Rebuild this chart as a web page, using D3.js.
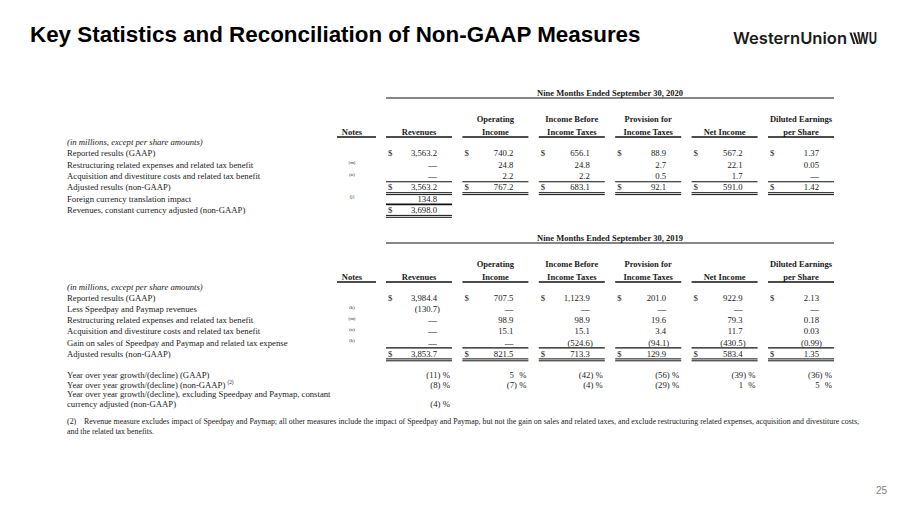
<!DOCTYPE html>
<html><head><meta charset="utf-8">
<script src="https://cdn.jsdelivr.net/npm/d3@7"></script>
<style>body{margin:0;background:#fff} svg{display:block}</style>
</head><body>
<svg id="c" width="900" height="506"></svg>
<script>
// ---------------- DATA ----------------
const columns = ["Revenues","Operating Income","Income Before Income Taxes","Provision for Income Taxes","Net Income","Diluted Earnings per Share"];
const headerTop = ["", "Operating", "Income Before", "Provision for", "", "Diluted Earnings"];
const headerBottom = ["Revenues", "Income", "Income Taxes", "Income Taxes", "Net Income", "per Share"];

const title2020 = "Nine Months Ended September 30, 2020";
const labels2020 = ["Reported results (GAAP)", "Restructuring related expenses and related tax benefit",
  "Acquisition and divestiture costs and related tax benefit", "Adjusted results (non-GAAP)",
  "Foreign currency translation impact", "Revenues, constant currency adjusted (non-GAAP)"];
const notes2020 = ["", "(m)", "(n)", "", "(j)", ""];
const reported2020 = [3563.2, 740.2, 656.1, 88.9, 567.2, 1.37];
const restructuring2020 = [0, 24.8, 24.8, 2.7, 22.1, 0.05];
const acquisition2020 = [0, 2.2, 2.2, 0.5, 1.7, 0];
const adjusted2020 = [3563.2, 767.2, 683.1, 92.1, 591.0, 1.42];
const fxImpact2020 = [134.8];
const constantCurrency2020 = [3698.0];

const title2019 = "Nine Months Ended September 30, 2019";
const labels2019 = ["Reported results (GAAP)", "Less Speedpay and Paymap revenues",
  "Restructuring related expenses and related tax benefit", "Acquisition and divestiture costs and related tax benefit",
  "Gain on sales of Speedpay and Paymap and related tax expense", "Adjusted results (non-GAAP)"];
const notes2019 = ["", "(k)", "(m)", "(n)", "(k)", ""];
const reported2019 = [3984.4, 707.5, 1123.9, 201.0, 922.9, 2.13];
const speedpay2019 = [-130.7, 0, 0, 0, 0, 0];
const restructuring2019 = [0, 98.9, 98.9, 19.6, 79.3, 0.18];
const acquisition2019 = [0, 15.1, 15.1, 3.4, 11.7, 0.03];
const gain2019 = [0, 0, -524.6, -94.1, -430.5, -0.99];
const adjusted2019 = [3853.7, 821.5, 713.3, 129.9, 583.4, 1.35];

const growthLabels = ["Year over year growth/(decline) (GAAP)", "Year over year growth/(decline) (non-GAAP)",
  "Year over year growth/(decline), excluding Speedpay and Paymap, constant", "currency adjusted (non-GAAP)"];
const growthGAAP = [-11, 5, -42, -56, -39, -36];
const growthNonGAAP = [-8, -7, -4, -29, 1, 5];
const growthConstantCurrency = [-4];

const footnoteMark = "(2)";
const footnoteLines = ["Revenue measure excludes impact of Speedpay and Paymap; all other measures include the impact of Speedpay and Paymap, but not the gain on sales and related taxes, and exclude restructuring related expenses, acquisition and divestiture costs,",
  "and the related tax benefits."];
const unitsNote = "(in millions, except per share amounts)";
const pageTitle = "Key Statistics and Reconciliation of Non-GAAP Measures";
const pageNumber = "25";

// ---------------- DRAW ----------------
const svg = d3.select("#c");
svg.append("rect").attr("width", 900).attr("height", 506).attr("fill", "#fff");
const SERIF = "'Liberation Serif','Times New Roman',serif";
const SANS = "'Liberation Sans',Arial,sans-serif";
const FS = 8.7;
const HFS = 8.5;
const INK = "#1a1a1a";

const x = d3.scaleBand().domain(columns).range([386, 834]).paddingInner(0.136).paddingOuter(0);
const colL = i => x(columns[i]);
const colR = i => x(columns[i]) + x.bandwidth();
const LABEL_X = 67, NOTE_X = 352;

function text(xx, yy, s, o = {}) {
  return svg.append("text").attr("x", xx).attr("y", yy).text(s)
    .attr("font-family", o.family || SERIF).attr("font-size", o.size || FS)
    .attr("font-weight", o.weight || "normal").attr("font-style", o.style || "normal")
    .attr("text-anchor", o.anchor || "start").attr("fill", o.fill || INK);
}
function hline(x1, x2, yy, w = 1) {
  svg.append("line").attr("x1", x1).attr("x2", x2).attr("y1", yy).attr("y2", yy)
    .attr("stroke", "#111").attr("stroke-width", w);
}
function dbl(x1, x2, yy) { hline(x1, x2, yy, 1); hline(x1, x2, yy + 1.9, 1); }

const f1 = d3.format(",.1f"), f2 = d3.format(".2f");
function fmt(v, i) {
  if (v === 0) return "—";
  const f = i === 5 ? f2 : f1;
  return v < 0 ? "(" + f(-v) + ")" : f(v);
}

// Title
text(30, 42, pageTitle, {family: SANS, size: 22.4, weight: "bold", fill: "#000"});

// Logo
const LOGO = "Inter, 'Open Sans', sans-serif";
text(733, 44, "WesternUnion", {family: LOGO, size: 16, weight: 600, fill: "#1a1a1a"})
  .attr("textLength", 114).attr("lengthAdjust", "spacingAndGlyphs");
[0, 3.6].forEach(d => {
  svg.append("path").attr("d", `M${849.5 + d},32.6 L${851.6 + d},32.6 L${855.4 + d},44 L${853.3 + d},44 Z`).attr("fill", "#1a1a1a");
});
text(857, 44, "WU", {family: LOGO, size: 15.6, weight: 700, fill: "#1a1a1a"})
  .attr("textLength", 20).attr("lengthAdjust", "spacingAndGlyphs");

function drawSection(top, ttl, rows, step) {
  text((x.range()[0] + x.range()[1]) / 2, top + 3, ttl, {weight: "bold", anchor: "middle", size: HFS});
  hline(x.range()[0], x.range()[1], top + 5, 1.1);
  columns.forEach((c, i) => {
    text(x(c) + x.bandwidth() / 2, top + 29.3, headerTop[i], {weight: "bold", anchor: "middle", size: HFS});
    text(x(c) + x.bandwidth() / 2, top + 41.5, headerBottom[i], {weight: "bold", anchor: "middle", size: HFS});
    hline(x(c), x(c) + x.bandwidth(), top + 44, 1.5);
  });
  text(NOTE_X, top + 41.5, "Notes", {weight: "bold", anchor: "middle", size: HFS});
  hline(337, 376, top + 44, 1.5);
  const y = d3.scaleLinear().domain([0, 1]).range([top + 49, top + 49 + step]);
  text(LABEL_X, y(0) + 3, unitsNote, {style: "italic"});
  rows.forEach((r, k) => {
    const cy = y(k + 1), by = cy + 3;
    text(LABEL_X, by, r.label);
    if (r.note) text(NOTE_X, cy - 0.5, r.note, {size: 4.8, anchor: "middle"});
    r.vals.forEach((v, i) => {
      const vr = colR(i) - 15;
      if (r.dollar) text(colL(i) + 2, by, "$");
      text(v < 0 ? vr + 3 : vr, by, fmt(v, i), {anchor: "end"});
      if (r.lineAbove) hline(colL(i), colR(i), cy - 5.7, 1.1);
      if (r.dblBelow) dbl(colL(i), colR(i), cy + 5.3);
      if (r.lineBelow) hline(colL(i), colR(i), cy + 5.6, 1.7);
    });
  });
  return y;
}

drawSection(93, title2020, [
  {label: labels2020[0], note: notes2020[0], vals: reported2020, dollar: true},
  {label: labels2020[1], note: notes2020[1], vals: restructuring2020},
  {label: labels2020[2], note: notes2020[2], vals: acquisition2020},
  {label: labels2020[3], note: notes2020[3], vals: adjusted2020, dollar: true, lineAbove: true, dblBelow: true},
  {label: labels2020[4], note: notes2020[4], vals: fxImpact2020, lineBelow: true},
  {label: labels2020[5], note: notes2020[5], vals: constantCurrency2020, dollar: true, dblBelow: true}
], 11.35);

drawSection(238, title2019, [
  {label: labels2019[0], note: notes2019[0], vals: reported2019, dollar: true},
  {label: labels2019[1], note: notes2019[1], vals: speedpay2019},
  {label: labels2019[2], note: notes2019[2], vals: restructuring2019},
  {label: labels2019[3], note: notes2019[3], vals: acquisition2019},
  {label: labels2019[4], note: notes2019[4], vals: gain2019},
  {label: labels2019[5], note: notes2019[5], vals: adjusted2019, dollar: true, lineAbove: true, dblBelow: true}
], 11.1);

// Growth rows
const gy = d3.scaleLinear().domain([0, 1]).range([375, 384.5]);
function pct(vals, cy) {
  vals.forEach((v, i) => {
    const by = cy + 3;
    text(colR(i) - 2, by, "%", {anchor: "end"});
    text(v < 0 ? colR(i) - 11.5 : colR(i) - 14.5, by, v < 0 ? "(" + Math.abs(v) + ")" : String(v), {anchor: "end"});
  });
}
text(LABEL_X, gy(0) + 3, growthLabels[0]);
pct(growthGAAP, gy(0));
const t2 = text(LABEL_X, gy(1) + 3, growthLabels[1] + " ");
t2.append("tspan").attr("font-size", 5.2).attr("dy", -3.2).text(footnoteMark);
pct(growthNonGAAP, gy(1));
text(LABEL_X, gy(2) + 0.3 + 3, growthLabels[2]);
text(LABEL_X, gy(3) + 0.5 + 3, growthLabels[3]);
pct(growthConstantCurrency, gy(3) + 0.5);

// Footnote
const FN = 7.9;
text(LABEL_X, 423.7, footnoteMark, {size: FN});
text(84, 423.7, footnoteLines[0], {size: FN});
text(LABEL_X, 433.5, footnoteLines[1], {size: FN});

// Page number
text(887, 494, pageNumber, {family: SANS, size: 10, anchor: "end", fill: "#7f7f7f"});
</script>
</body></html>
